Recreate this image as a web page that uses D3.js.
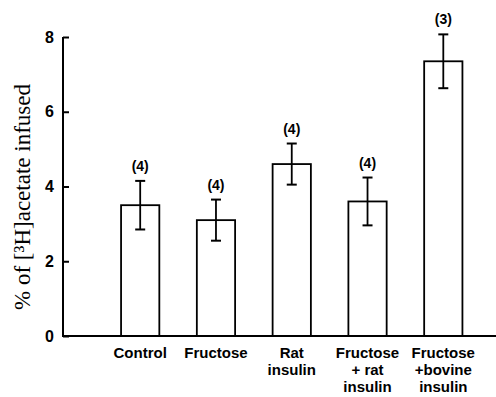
<!DOCTYPE html>
<html><head><meta charset="utf-8">
<script src="https://cdn.jsdelivr.net/npm/d3@7"></script>
<style>body{margin:0;background:#fff}</style>
</head><body>
<svg id="c" width="496" height="397"></svg>
<script>
const categories = [["Control"],["Fructose"],["Rat","insulin"],["Fructose","+ rat","insulin"],["Fructose","+bovine","insulin"]];
const means = [3.5, 3.1, 4.6, 3.6, 7.35];
const errors = [0.65, 0.55, 0.55, 0.64, 0.72];
const nLabels = ["(4)","(4)","(4)","(4)","(3)"];
const yTicks = [0,2,4,6,8];
const yTitle = "% of [³H]acetate infused";

const svg = d3.select("#c");
const x0 = 63, yB = 336, yT = 37;
const y = d3.scaleLinear().domain([0,8]).range([yB, yT]);
const x = d3.scaleBand().domain(d3.range(categories.length)).range([102.5, 481]).paddingInner(0.495).paddingOuter(0.245);

// axes
const yAxis = d3.axisLeft(y).tickValues(yTicks).tickSize(-6).tickPadding(9).tickFormat(d3.format("d"));
const gy = svg.append("g").attr("transform",`translate(${x0},0)`).call(yAxis);
gy.select(".domain").attr("stroke","#000").attr("stroke-width",2).attr("d",`M0,${yB}V${yT}`);
gy.selectAll(".tick line").attr("stroke","#000").attr("stroke-width",2);
gy.selectAll(".tick text").attr("font-family","Liberation Sans, Arial, sans-serif").attr("font-weight","bold").attr("font-size",16).attr("fill","#000");

svg.append("line").attr("x1",x0-1).attr("x2",496).attr("y1",yB).attr("y2",yB).attr("stroke","#000").attr("stroke-width",2);

// bars
const g = svg.append("g");
means.forEach((m,i)=>{
  const bx = x(i), bw = x.bandwidth(), cx = bx + bw/2;
  g.append("rect").attr("x",bx).attr("y",y(m)).attr("width",bw).attr("height",yB-y(m))
   .attr("fill","none").attr("stroke","#000").attr("stroke-width",1.8);
  const e = errors[i];
  g.append("line").attr("x1",cx).attr("x2",cx).attr("y1",y(m+e)).attr("y2",y(m-e)).attr("stroke","#000").attr("stroke-width",1.8);
  [m+e,m-e].forEach(v=>g.append("line").attr("x1",cx-5).attr("x2",cx+5).attr("y1",y(v)).attr("y2",y(v)).attr("stroke","#000").attr("stroke-width",2));
  g.append("text").attr("x",cx).attr("y",y(m+e)-10).attr("text-anchor","middle")
   .attr("font-family","Liberation Sans, Arial, sans-serif").attr("font-weight","bold").attr("font-size",14).text(nLabels[i]);
  categories[i].forEach((t,j)=>{
    g.append("text").attr("x",cx).attr("y",358+j*17).attr("text-anchor","middle")
     .attr("font-family","Liberation Sans, Arial, sans-serif").attr("font-weight","bold").attr("font-size",15).text(t);
  });
});

// title
svg.append("text").attr("transform","translate(30,197) rotate(-90)").attr("text-anchor","middle")
  .attr("font-family","Liberation Serif, Times New Roman, serif").attr("font-size",23).attr("fill","#000").text(yTitle);
</script>
</body></html>
